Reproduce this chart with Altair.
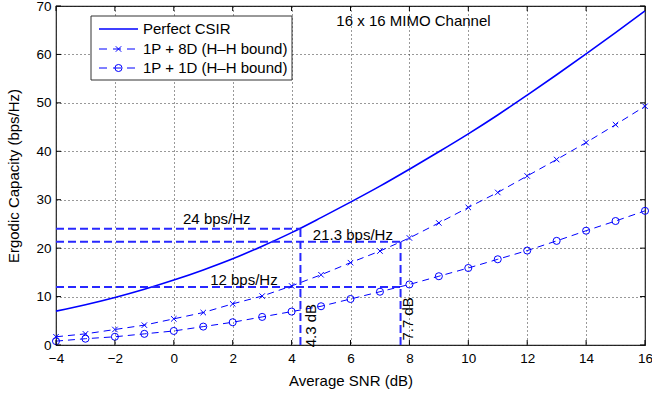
import altair as alt
import pandas as pd

# ---------------- data ----------------
snr = list(range(-4, 17))
perfect_csir = [7.0, 8.3, 9.8, 11.5, 13.4, 15.5, 17.8, 20.4, 23.2, 26.3, 29.5,
                32.8, 36.3, 39.9, 43.6, 47.5, 51.6, 55.8, 60.1, 64.5, 69.0]
p1_8d = [1.7, 2.3, 3.2, 4.1, 5.4, 6.7, 8.5, 10.1, 12.2, 14.5, 17.0,
         19.4, 22.1, 25.2, 28.4, 31.5, 34.9, 38.3, 41.8, 45.5, 49.3]
p1_1d = [0.8, 1.3, 1.7, 2.3, 2.9, 3.8, 4.7, 5.8, 6.9, 8.0, 9.5,
         11.0, 12.5, 14.2, 15.9, 17.7, 19.5, 21.5, 23.6, 25.6, 27.7]

# reference (guide) lines
h_x1 = [-4, -4, -4]
h_x2 = [4.3, 7.7, 7.7]
h_y = [24, 21.3, 12]
v_x = [4.3, 7.7]
v_y1 = [0, 0]
v_y2 = [24, 21.3]

# annotations
ann_text = ["24 bps/Hz", "21.3 bps/Hz", "12 bps/Hz", "16 x 16 MIMO Channel"]
ann_x = [1.46, 6.08, 2.38, 5.52]
ann_y = [26.0, 22.7, 13.5, 66.8]
ann_align = ["center", "center", "center", "left"]
rot_text = ["4.3 dB", "7.7 dB"]
rot_x = [4.65, 7.95]
rot_y = [4.0, 5.4]

x_ticks = [-4, -2, 0, 2, 4, 6, 8, 10, 12, 14, 16]
y_ticks = [0, 10, 20, 30, 40, 50, 60, 70]

legend_labels = ["Perfect CSIR", "1P + 8D (H\u2013H bound)", "1P + 1D (H\u2013H bound)"]

# ---------------- styling ----------------
BLUE = "#0000ff"
FONT = "Liberation Sans"
W, H = 589, 339
X_SHAPE = "M-1,-1L1,1M-1,1L1,-1"

xs = alt.Scale(domain=[-4, 16], nice=False, zero=False)
ys = alt.Scale(domain=[0, 70], nice=False, zero=False)

xaxis = alt.Axis(values=x_ticks, title="Average SNR (dB)", grid=True,
                 gridDash=[1, 3], gridColor="#333", gridWidth=1,
                 domain=False, ticks=False, labelFontSize=13.5, labelPadding=6,
                 labelFont=FONT, labelColor="black", titleFont=FONT,
                 titleFontSize=15, titleFontWeight="normal", titleColor="black",
                 titlePadding=9, labelFlush=False)
yaxis = alt.Axis(values=y_ticks, title="Ergodic Capacity (bps/Hz)", grid=True,
                 gridDash=[1, 3], gridColor="#333", gridWidth=1,
                 domain=False, ticks=False, labelFontSize=13.5, labelPadding=5,
                 labelFont=FONT, labelColor="black", titleFont=FONT,
                 titleFontSize=15, titleFontWeight="normal", titleColor="black",
                 titlePadding=14, labelFlush=False)

df = pd.DataFrame({"snr": snr, "perfect": perfect_csir, "p8": p1_8d, "p1": p1_1d})

base = alt.Chart(df)

perfect_line = base.mark_line(color=BLUE, strokeWidth=1.6, interpolate="monotone").encode(
    x=alt.X("snr:Q", scale=xs, axis=xaxis),
    y=alt.Y("perfect:Q", scale=ys, axis=yaxis),
)
p8_line = base.mark_line(color=BLUE, strokeWidth=1, strokeDash=[7, 5]).encode(
    x=alt.X("snr:Q", scale=xs), y=alt.Y("p8:Q", scale=ys))
p8_pts = base.mark_point(shape=X_SHAPE, color=BLUE, size=30, strokeWidth=1,
                         filled=False, opacity=1).encode(
    x=alt.X("snr:Q", scale=xs), y=alt.Y("p8:Q", scale=ys))
p1_line = base.mark_line(color=BLUE, strokeWidth=1, strokeDash=[7, 5]).encode(
    x=alt.X("snr:Q", scale=xs), y=alt.Y("p1:Q", scale=ys))
p1_pts = base.mark_point(shape="circle", color=BLUE, size=50, strokeWidth=1,
                         filled=False, opacity=1).encode(
    x=alt.X("snr:Q", scale=xs), y=alt.Y("p1:Q", scale=ys))

hdf = pd.DataFrame({"x1": h_x1, "x2": h_x2, "y": h_y})
hlines = alt.Chart(hdf).mark_rule(color="#2828ff", strokeWidth=2, strokeDash=[8, 4]).encode(
    x=alt.X("x1:Q", scale=xs), x2="x2:Q", y=alt.Y("y:Q", scale=ys))
vdf = pd.DataFrame({"x": v_x, "y1": v_y1, "y2": v_y2})
vlines = alt.Chart(vdf).mark_rule(color="#2828ff", strokeWidth=2, strokeDash=[8, 4]).encode(
    x=alt.X("x:Q", scale=xs), y=alt.Y("y1:Q", scale=ys), y2="y2:Q")

adf = pd.DataFrame({"t": ann_text, "x": ann_x, "y": ann_y, "a": ann_align})
ann_c = alt.Chart(adf[adf.a == "center"]).mark_text(font=FONT, fontSize=15, color="black",
                                                  align="center", baseline="middle").encode(
    x=alt.X("x:Q", scale=xs), y=alt.Y("y:Q", scale=ys), text="t:N")
ann_l = alt.Chart(adf[adf.a == "left"]).mark_text(font=FONT, fontSize=15, color="black",
                                                align="left", baseline="middle").encode(
    x=alt.X("x:Q", scale=xs), y=alt.Y("y:Q", scale=ys), text="t:N")
rdf = pd.DataFrame({"t": rot_text, "x": rot_x, "y": rot_y})
ann_r = alt.Chart(rdf).mark_text(font=FONT, fontSize=15, color="black", angle=270,
                                 align="center", baseline="middle").encode(
    x=alt.X("x:Q", scale=xs), y=alt.Y("y:Q", scale=ys), text="t:N")

# inward ticks on all four sides
xt = pd.DataFrame({"v": x_ticks})
yt = pd.DataFrame({"v": y_ticks})
tk = dict(color="black", strokeWidth=1)
t_bottom = alt.Chart(xt).mark_rule(**tk).encode(x=alt.X("v:Q", scale=xs), y=alt.value(H), y2=alt.value(H - 5))
t_top = alt.Chart(xt).mark_rule(**tk).encode(x=alt.X("v:Q", scale=xs), y=alt.value(0), y2=alt.value(5))
t_left = alt.Chart(yt).mark_rule(**tk).encode(y=alt.Y("v:Q", scale=ys), x=alt.value(0), x2=alt.value(5))
t_right = alt.Chart(yt).mark_rule(**tk).encode(y=alt.Y("v:Q", scale=ys), x=alt.value(W - 5), x2=alt.value(W))

# legend (manual, matlab style)
one = pd.DataFrame({"k": [0]})
lg_box = alt.Chart(one).mark_rect(fill="white", stroke="#333", strokeWidth=1).encode(
    x=alt.value(35), x2=alt.value(236), y=alt.value(10), y2=alt.value(74))
rows_y = [23, 43, 62]
lg_l1 = alt.Chart(one).mark_rule(color=BLUE, strokeWidth=1.6).encode(
    x=alt.value(43), x2=alt.value(82), y=alt.value(rows_y[0]))
lg_l2 = alt.Chart(one).mark_rule(color=BLUE, strokeWidth=1, strokeDash=[8, 6]).encode(
    x=alt.value(43), x2=alt.value(82), y=alt.value(rows_y[1]))
lg_l3 = alt.Chart(one).mark_rule(color=BLUE, strokeWidth=1, strokeDash=[8, 6]).encode(
    x=alt.value(43), x2=alt.value(82), y=alt.value(rows_y[2]))
lg_m2 = alt.Chart(one).mark_point(shape=X_SHAPE, color=BLUE, size=30, strokeWidth=1,
                                  filled=False, opacity=1).encode(
    x=alt.value(62.5), y=alt.value(rows_y[1]))
lg_m3 = alt.Chart(one).mark_point(shape="circle", color=BLUE, size=50, strokeWidth=1,
                                  filled=False, opacity=1).encode(
    x=alt.value(62.5), y=alt.value(rows_y[2]))
lg_txt = [alt.Chart(one).mark_text(font=FONT, fontSize=15, color="black", align="left",
                                   baseline="middle", text=lbl).encode(
    x=alt.value(87), y=alt.value(ry)) for lbl, ry in zip(legend_labels, rows_y)]

chart = alt.layer(
    perfect_line, hlines, vlines, p8_line, p8_pts, p1_line, p1_pts,
    ann_c, ann_l, ann_r, t_bottom, t_top, t_left, t_right,
    lg_box, lg_l1, lg_l2, lg_l3, lg_m2, lg_m3, *lg_txt,
).properties(
    width=W, height=H,
    autosize=alt.AutoSizeParams(type="none"),
    padding={"left": 56, "top": 6, "right": 7, "bottom": 53},
    background="white",
).configure_view(stroke="#222", strokeWidth=1.2)

chart.save("out.html", embed_options={"renderer": "svg", "actions": False})
